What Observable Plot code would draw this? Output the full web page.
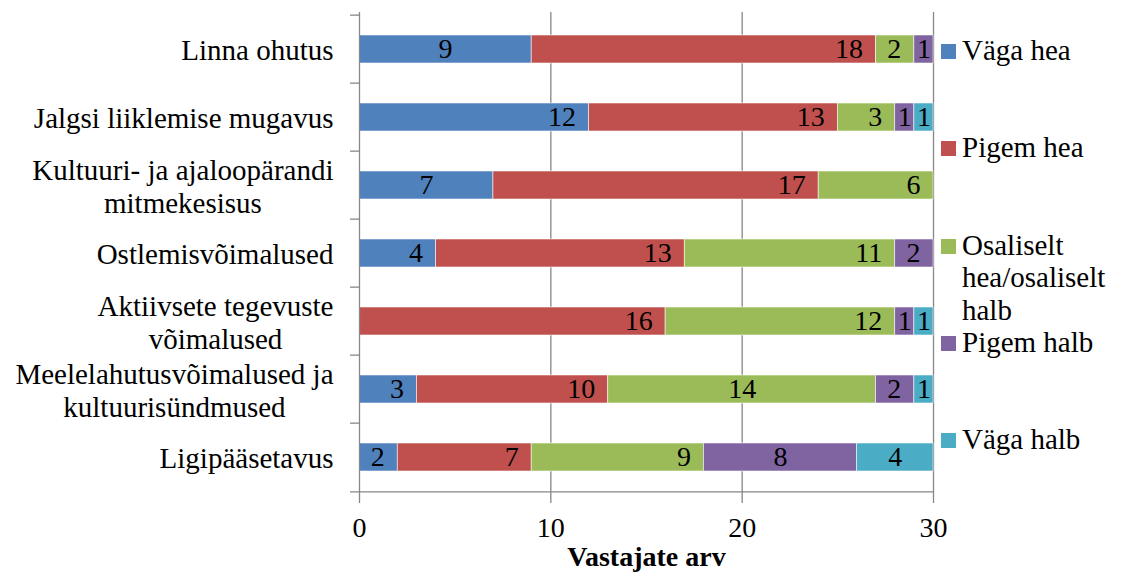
<!DOCTYPE html>
<html>
<head>
<meta charset="utf-8">
<script src="https://cdn.jsdelivr.net/npm/d3@7"></script>
<script src="https://cdn.jsdelivr.net/npm/@observablehq/plot@0.6"></script>
<style>
  body { margin: 0; background: #fff; }
</style>
</head>
<body>
<div id="wrap" style="position:relative;width:1124px;height:576px;overflow:hidden;font-family:'Liberation Serif', serif;"><div id="chart" style="position:absolute;left:0;top:0;"></div></div>
<script>
// ---- data ----
const categories = [
  "Linna ohutus",
  "Jalgsi liiklemise mugavus",
  "Kultuuri- ja ajaloopärandi\nmitmekesisus",
  "Ostlemisvõimalused",
  "Aktiivsete tegevuste\nvõimalused",
  "Meelelahutusvõimalused ja\nkultuurisündmused",
  "Ligipääsetavus"
];
const series = ["Väga hea", "Pigem hea", "Osaliselt hea/osaliselt halb", "Pigem halb", "Väga halb"];
const vagaHea   = [9, 12, 7, 4, 0, 3, 2];
const pigemHea  = [18, 13, 17, 13, 16, 10, 7];
const osaliselt = [2, 3, 6, 11, 12, 14, 9];
const pigemHalb = [1, 1, 0, 2, 1, 2, 8];
const vagaHalb  = [0, 1, 0, 0, 1, 1, 4];
const colors = ["#4F81BD", "#C0504D", "#9BBB59", "#8064A2", "#4BACC6"];
const xTicks = [0, 10, 20, 30];
const xTitle = "Vastajate arv";

const FONT = "'Liberation Serif', serif";

// labels that the reference shows centred in their segment
const centeredLabels = new Set([
  categories[0] + "|" + series[0],
  categories[2] + "|" + series[0],
  categories[5] + "|" + series[2],
  categories[6] + "|" + series[3],
  categories[6] + "|" + series[4]
]);

const valueLists = [vagaHea, pigemHea, osaliselt, pigemHalb, vagaHalb];
const data = [];
categories.forEach((c, i) => series.forEach((s, j) => {
  const v = valueLists[j][i];
  if (v > 0) data.push({cat: c, series: s, value: v});
}));
const isCentered = d => d.value <= 1 || centeredLabels.has(d.cat + "|" + d.series);

// ---- layout ----
const W = 940, H = 576, mL = 359, mR = 7, mT = 12, mB = 83;
const plotW = W - mL - mR;
const step = (H - mT - mB) / categories.length;
const grey = "#878787";

// measure label widths with a hidden span (same font as rendered)
const probe = document.createElement("span");
probe.style.cssText = "position:absolute;visibility:hidden;white-space:pre;font-size:29px;font-family:" + FONT;
document.body.appendChild(probe);
const textWidth = s => { probe.textContent = s; return probe.getBoundingClientRect().width; };
const catLabelMarks = categories.map(c => {
  const w = Math.max(...c.split("\n").map(textWidth));
  return Plot.text([c], {
    frameAnchor: "left", y: d => d, text: d => d,
    textAnchor: "middle", dx: -(26 + w / 2),
    fontSize: 29, lineHeight: 1.14, fill: "#000"
  });
});

const chart = Plot.plot({
  width: W, height: H,
  marginLeft: mL, marginRight: mR, marginTop: mT, marginBottom: mB,
  style: {fontFamily: FONT, background: "#fff", overflow: "visible"},
  x: {domain: [0, 30], axis: null},
  y: {domain: categories, paddingInner: 0.59, paddingOuter: 0.295, axis: null},
  color: {domain: series, range: colors},
  marks: [
    Plot.ruleX(xTicks.filter(t => t > 0), {stroke: grey, strokeWidth: 1.3}),
    Plot.barX(data, Plot.stackX({x: "value", y: "cat", fill: "series", order: series, stroke: "#fff", strokeWidth: 0.7, strokeOpacity: 0.8})),
    Plot.text(data, Plot.stackX2({
      x: "value", y: "cat", z: "series", order: series,
      text: d => isCentered(d) ? "" : String(d.value),
      textAnchor: "end", dx: -13, fontSize: 28, fill: "#000"
    })),
    Plot.text(data, Plot.stackX({
      x: "value", y: "cat", z: "series", order: series,
      text: d => isCentered(d) ? String(d.value) : "",
      fontSize: 28, fill: "#000"
    })),
    Plot.ruleX([0], {stroke: grey, strokeWidth: 1.3}),
    Plot.tickY(categories, {y: d => d, dy: -step / 2, insetLeft: -9, insetRight: plotW, stroke: grey, strokeWidth: 1.3}),
    Plot.tickY(categories.slice(-1), {y: d => d, dy: step / 2, insetLeft: -9, stroke: grey, strokeWidth: 1.3}),
    Plot.axisX({ticks: xTicks, tickSize: 10, tickPadding: 14, fontSize: 28, stroke: grey, strokeWidth: 1.3, label: null, tickFormat: d => String(d)}),
    ...catLabelMarks,
    Plot.text([xTitle], {frameAnchor: "bottom", text: d => d, dy: 72, fontSize: 28, fontWeight: "bold", fill: "#000"})
  ]
});
document.getElementById("chart").appendChild(chart);

// ---- legend ----
const wrap = document.getElementById("wrap");
series.forEach((s, i) => {
  const top = 44 + i * 97.25;
  const sw = document.createElement("div");
  sw.style.cssText = `position:absolute;left:941px;top:${top}px;width:15px;height:15px;background:${colors[i]}`;
  const tx = document.createElement("div");
  tx.style.cssText = `position:absolute;left:962px;top:${top - 10}px;width:160px;font-size:29px;line-height:32.5px;color:#000;font-family:${FONT}`;
  tx.textContent = s;
  wrap.appendChild(sw); wrap.appendChild(tx);
});
</script>
</body>
</html>
